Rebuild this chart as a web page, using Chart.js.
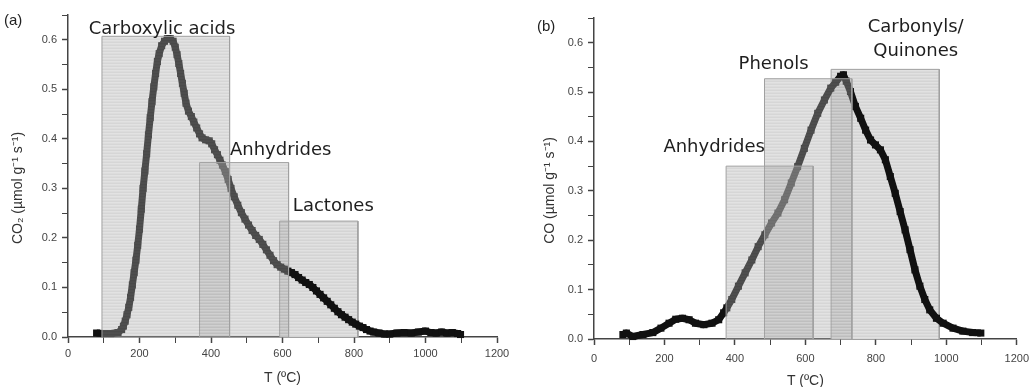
<!DOCTYPE html>
<html lang="en">
<head>
<meta charset="UTF-8">
<title>CO2 / CO TPD profiles</title>
<script src="https://cdn.jsdelivr.net/npm/chart.js"></script>
<style>
  html, body { margin: 0; padding: 0; background: #fff; }
  body { width: 1036px; height: 387px; position: relative; overflow: hidden; }
  .panel { position: absolute; top: 0; width: 518px; height: 387px; }
  #panelA { left: 0; }
  #panelB { left: 518px; }
</style>
</head>
<body>
<div class="panel" id="panelA"><canvas id="chartA" width="518" height="387"></canvas></div>
<div class="panel" id="panelB"><canvas id="chartB" width="518" height="387"></canvas></div>
<script>
// (a) CO2 evolution
const tempA = [
  80, 100, 120, 140, 150, 155, 160, 165, 170, 175,
  180, 185, 190, 195, 200, 205, 210, 215, 220, 225,
  230, 235, 240, 245, 250, 255, 262, 270, 278, 286,
  294, 300, 305, 310, 315, 320, 325, 330, 337, 345,
  352, 360, 368, 375, 385, 395, 402, 410, 418, 425,
  432, 440, 448, 456, 465, 475, 485, 495, 505, 515,
  525, 535, 545, 555, 565, 575, 585, 595, 605, 615,
  625, 635, 645, 655, 665, 675, 685, 695, 705, 715,
  725, 735, 745, 755, 765, 775, 785, 795, 805, 815,
  825, 835, 845, 855, 870, 885, 900, 920, 940, 960,
  980, 1000, 1015, 1030, 1045, 1060, 1075, 1090, 1098
];
const co2 = [
  0.008, 0.007, 0.007, 0.009, 0.015, 0.022, 0.032, 0.045, 0.06, 0.08,
  0.105, 0.13, 0.155, 0.185, 0.218, 0.258, 0.3, 0.335, 0.37, 0.408,
  0.443, 0.475, 0.505, 0.532, 0.556, 0.572, 0.588, 0.597, 0.602, 0.602,
  0.597, 0.585, 0.57, 0.552, 0.532, 0.512, 0.492, 0.472, 0.456, 0.445,
  0.434, 0.422, 0.41, 0.402, 0.398, 0.396, 0.39, 0.378, 0.368, 0.357,
  0.347, 0.334, 0.318, 0.3, 0.283, 0.266, 0.251, 0.238, 0.226, 0.215,
  0.205, 0.197, 0.187, 0.176, 0.165, 0.154, 0.146, 0.141, 0.137, 0.133,
  0.13, 0.126, 0.12, 0.115, 0.11, 0.106, 0.1, 0.093, 0.086, 0.079,
  0.072, 0.065, 0.058, 0.051, 0.045, 0.04, 0.035, 0.03, 0.026, 0.022,
  0.019, 0.015, 0.012, 0.01, 0.008, 0.006, 0.006, 0.008, 0.009, 0.008,
  0.01, 0.012, 0.009, 0.008, 0.01, 0.008, 0.009, 0.007, 0.005
];

// (b) CO evolution
const tempB = [
  82, 92, 110, 139, 167, 190, 213, 232, 251, 270,
  288, 312, 335, 354, 368, 377, 391, 410, 429, 448,
  466, 485, 504, 522, 541, 560, 578, 597, 616, 635,
  654, 672, 686, 700, 708, 716, 728, 742, 757, 771,
  785, 799, 813, 827, 841, 855, 869, 883, 897, 911,
  925, 939, 953, 972, 991, 1019, 1047, 1075, 1098
];
const co = [
  0.009, 0.012, 0.005, 0.009, 0.013, 0.022, 0.032, 0.04, 0.042, 0.039,
  0.032, 0.029, 0.032, 0.039, 0.053, 0.063, 0.08, 0.107, 0.134, 0.16,
  0.187, 0.211, 0.235, 0.255, 0.282, 0.316, 0.349, 0.386, 0.423, 0.457,
  0.484, 0.508, 0.52, 0.532, 0.535, 0.522, 0.501, 0.471, 0.447, 0.423,
  0.403, 0.393, 0.383, 0.363, 0.329, 0.295, 0.258, 0.221, 0.181, 0.14,
  0.107, 0.08, 0.059, 0.042, 0.032, 0.022, 0.016, 0.013, 0.012
];

// surface groups: temperature ranges and heights of the shaded boxes
const groupsA = ["Carboxylic acids", "Anhydrides", "Lactones"];
const groupStartA = [95, 368, 592];
const groupEndA = [452, 617, 811];
const groupTopA = [0.607, 0.352, 0.234];

const groupsB = ["Anhydrides", "Phenols", "Carbonyls/Quinones"];
const groupStartB = [375, 484, 673];
const groupEndB = [622, 732, 980];
const groupTopB = [0.35, 0.527, 0.546];

// tick labels
const xTickLabels = [0, 200, 400, 600, 800, 1000, 1200];
const yTickLabels = [0.0, 0.1, 0.2, 0.3, 0.4, 0.5, 0.6];

// striped grey fills like the scanned figure
function stripes(rows) {
  const c = document.createElement('canvas');
  c.width = 4; c.height = rows.length;
  const g = c.getContext('2d');
  rows.forEach((col, i) => { g.fillStyle = col; g.fillRect(0, i, 4, 1); });
  return g.createPattern(c, 'repeat');
}
const solidFill = stripes(['rgb(212,212,212)', 'rgb(225,225,225)', 'rgb(218,218,218)']);
const glassFill = stripes(['rgba(160,160,160,0.43)', 'rgba(176,176,176,0.36)', 'rgba(168,168,168,0.40)']);

const labelFont = '18px "DejaVu Sans", sans-serif';
const axisFont = '14px "Liberation Sans", Arial, sans-serif';

// text on the plot: group names, axis titles, panel letter
const notesPlugin = {
  id: 'notes',
  afterDraw(chart, args, opts) {
    const { ctx, chartArea, scales } = chart;
    ctx.save();
    ctx.fillStyle = '#1e1e1e';
    ctx.font = labelFont;
    ctx.textBaseline = 'alphabetic';
    opts.labels.forEach(l => {
      ctx.textAlign = l.align;
      const x = scales.x.getPixelForValue(l.x);
      const y = scales.y.getPixelForValue(l.y);
      l.text.forEach((line, i) => ctx.fillText(line, x, y + i * 24));
    });

    ctx.fillStyle = '#333';
    ctx.font = axisFont;
    ctx.textAlign = 'center';
    ctx.textBaseline = 'middle';
    ctx.fillText(opts.xTitle, (chartArea.left + chartArea.right) / 2, chartArea.bottom + opts.xTitleGap);
    ctx.save();
    ctx.translate(opts.yTitleX, (chartArea.top + chartArea.bottom) / 2 + 12);
    ctx.rotate(-Math.PI / 2);
    ctx.fillText(opts.yTitle, 0, 0);
    ctx.restore();

    ctx.fillStyle = '#222';
    ctx.font = '15px "Liberation Sans", Arial, sans-serif';
    ctx.textAlign = 'left';
    ctx.fillText(opts.letter, opts.letterX, opts.letterY);
    ctx.restore();
  }
};

function buildPanel(id, temps, values, groups, starts, ends, tops, look) {
  const datasets = [{
    data: temps.map((t, i) => ({ x: t, y: values[i] })),
    borderColor: '#111',
    backgroundColor: '#111',
    borderWidth: 7,
    borderJoinStyle: 'round',
    pointStyle: 'rect',
    pointRadius: 5,
    pointBorderWidth: 0,
    fill: false,
    clip: false,
    order: 1
  }];
  groups.forEach((g, i) => {
    const onTop = look.overlay[i];
    datasets.push({
      label: g,
      data: [
        { x: starts[i], y: 0 }, { x: starts[i], y: tops[i] },
        { x: ends[i], y: tops[i] }, { x: ends[i], y: 0 }
      ],
      borderColor: 'rgb(160,160,160)',
      borderWidth: 1,
      pointRadius: 0,
      fill: 'origin',
      backgroundColor: onTop ? glassFill : solidFill,
      order: onTop ? 0 : 2
    });
  });

  const isMajorX = v => xTickLabels.includes(v);
  const isMajorY = v => yTickLabels.some(t => Math.abs(t - v) < 1e-6);

  return new Chart(document.getElementById(id), {
    type: 'line',
    data: { datasets },
    plugins: [notesPlugin],
    options: {
      responsive: false,
      animation: false,
      devicePixelRatio: 1,
      layout: { padding: look.padding },
      plugins: {
        legend: { display: false },
        tooltip: { enabled: false },
        notes: look.notes
      },
      scales: {
        x: {
          type: 'linear', min: 0, max: 1200, z: 1,
          afterFit: s => { s.height = look.xHeight; },
          border: { display: true, color: '#444', width: 1.5 },
          grid: {
            drawOnChartArea: false, drawTicks: true, tickLength: 6,
            tickColor: '#444',
            tickWidth: c => (isMajorX(c.tick.value) ? 1.5 : 1)
          },
          ticks: {
            stepSize: 100, autoSkip: false, maxRotation: 0,
            padding: look.xTickPad, color: '#444',
            font: { family: '"Liberation Sans", Arial, sans-serif', size: 11 },
            callback: v => (isMajorX(v) ? String(v) : '')
          }
        },
        y: {
          type: 'linear', min: 0, max: 0.65, z: 1,
          afterFit: s => { s.width = look.yWidth; },
          border: { display: true, color: '#444', width: 1.5 },
          grid: {
            drawOnChartArea: false, drawTicks: true, tickLength: 6,
            tickColor: '#444',
            tickWidth: c => (isMajorY(c.tick.value) ? 1.5 : 1)
          },
          ticks: {
            stepSize: 0.05, autoSkip: false, padding: 5, color: '#444',
            font: { family: '"Liberation Sans", Arial, sans-serif', size: 11 },
            callback: v => (isMajorY(v) ? v.toFixed(1) : '')
          }
        }
      }
    }
  });
}

buildPanel('chartA', tempA, co2, groupsA, groupStartA, groupEndA, groupTopA, {
  overlay: [true, true, false],
  padding: { left: 0, right: 21, top: 15, bottom: 0 },
  yWidth: 68, xHeight: 50, xTickPad: 4,
  notes: {
    labels: [
      { text: ['Carboxylic acids'], x: 263, y: 0.612, align: 'center' },
      { text: ['Anhydrides'], x: 453, y: 0.368, align: 'left' },
      { text: ['Lactones'], x: 629, y: 0.254, align: 'left' }
    ],
    xTitle: 'T (ºC)', xTitleGap: 41,
    yTitle: 'CO₂ (µmol g⁻¹ s⁻¹)', yTitleX: 18,
    letter: '(a)', letterX: 4, letterY: 21
  }
});

buildPanel('chartB', tempB, co, groupsB, groupStartB, groupEndB, groupTopB, {
  overlay: [true, true, false],
  padding: { left: 0, right: 16, top: 18, bottom: 0 },
  yWidth: 76, xHeight: 48, xTickPad: 7,
  notes: {
    labels: [
      { text: ['Anhydrides'], x: 485, y: 0.379, align: 'right' },
      { text: ['Phenols'], x: 510, y: 0.546, align: 'center' },
      { text: ['Carbonyls/', 'Quinones'], x: 913, y: 0.621, align: 'center' }
    ],
    xTitle: 'T (ºC)', xTitleGap: 42,
    yTitle: 'CO (µmol g⁻¹ s⁻¹)', yTitleX: 32,
    letter: '(b)', letterX: 19, letterY: 27
  }
});
</script>
</body>
</html>
